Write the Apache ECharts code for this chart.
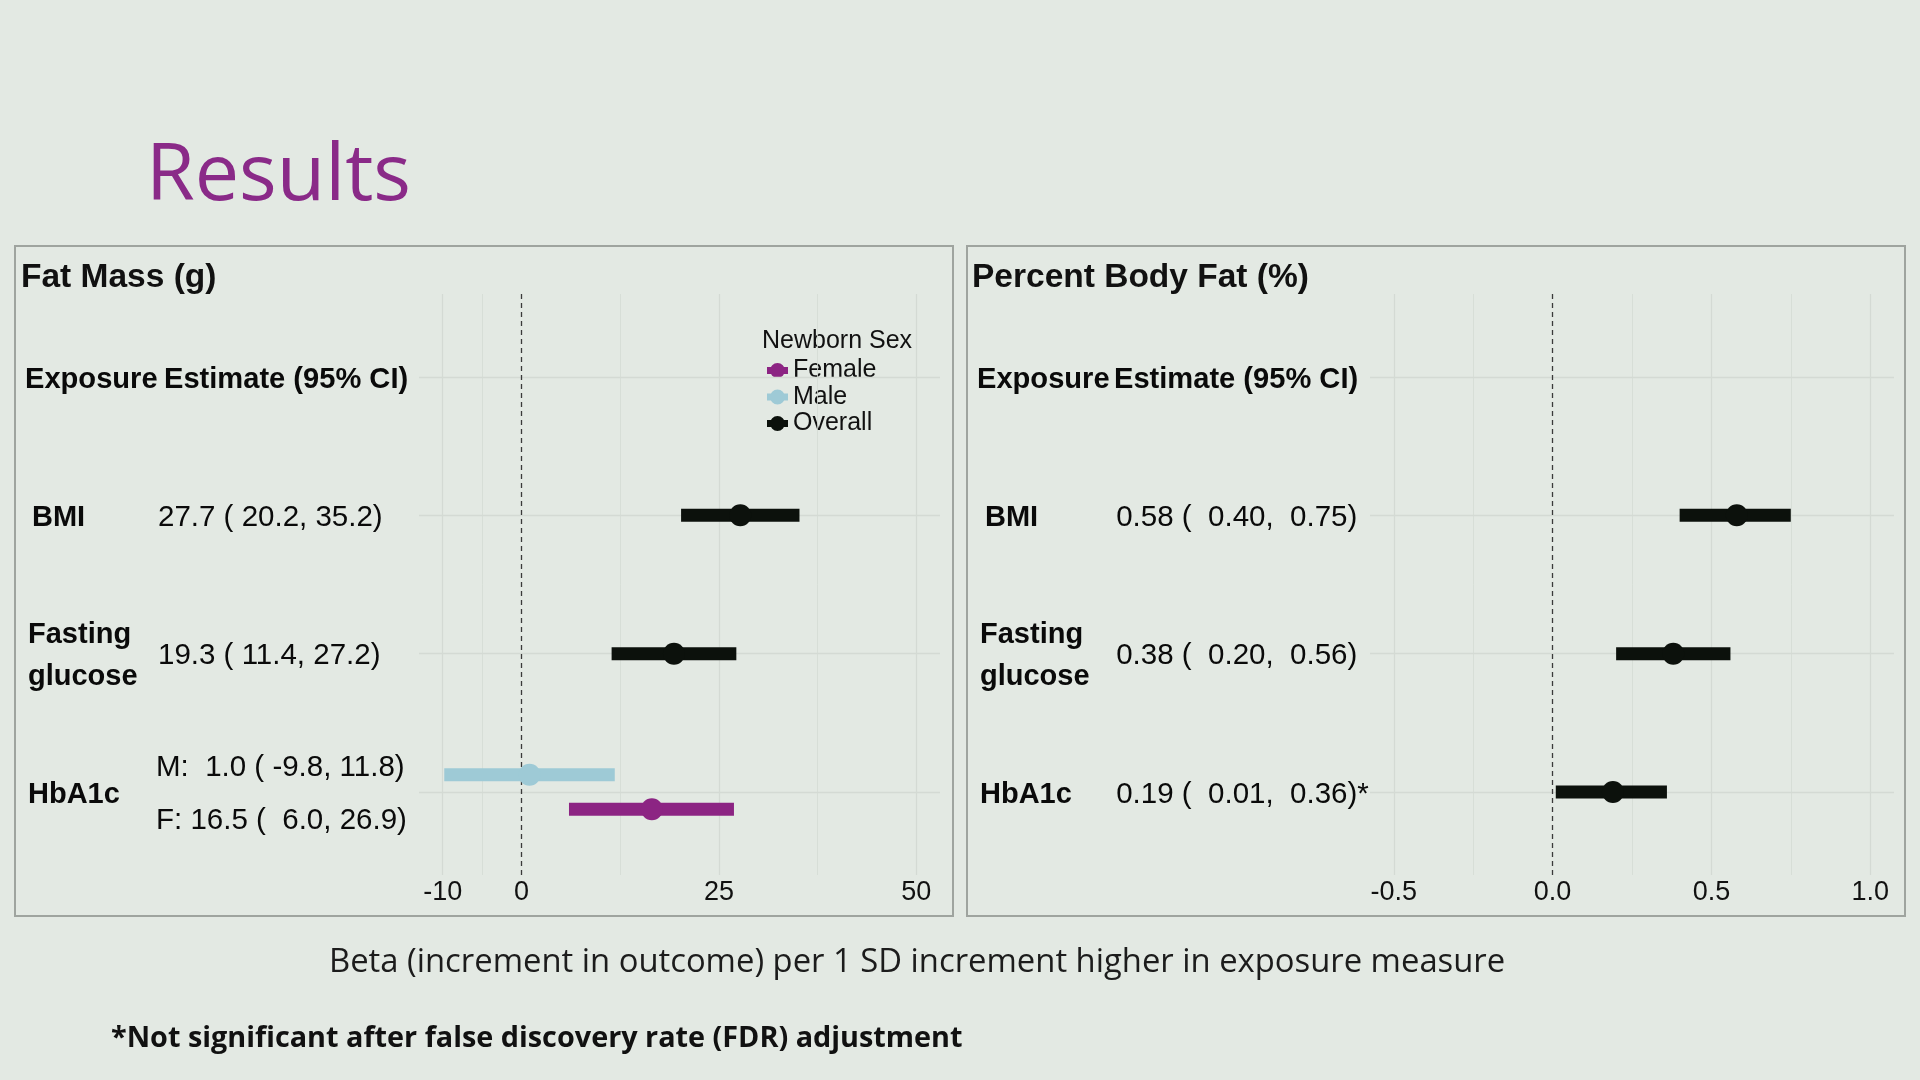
<!DOCTYPE html>
<html>
<head>
<meta charset="utf-8">
<title>Results</title>
<script src="https://cdn.jsdelivr.net/npm/echarts@6/dist/echarts.min.js"></script>
<style>
  html, body { margin: 0; padding: 0; background: #e3e9e3; }
  #main { width: 1920px; height: 1080px; }
</style>
</head>
<body>
<div id="main"></div>
<script>
// rows: 1 = header, 2..4 = exposures
var exposures = ['BMI', 'Fasting\nglucose', 'HbA1c'];
var exposureRows = [2, 3, 4];

// Fat mass (g), overall (BMI, fasting glucose)
var fmOverallEst = [27.7, 19.3];
var fmOverallLo = [20.2, 11.4];
var fmOverallHi = [35.2, 27.2];
// Fat mass (g), HbA1c by newborn sex
var fmMale = [1.0, -9.8, 11.8];
var fmFemale = [16.5, 6.0, 26.9];

// Percent body fat (%), overall
var pbfEst = [0.58, 0.38, 0.19];
var pbfLo = [0.40, 0.20, 0.01];
var pbfHi = [0.75, 0.56, 0.36];
var pbfFdrSig = [true, true, false];

var fmTicks = [-10, 0, 25, 50];
var fmMinor = [-5, 12.5, 37.5];
var pbfTicks = [-0.5, 0, 0.5, 1.0];
var pbfMinor = [-0.25, 0.25, 0.75];

var sexNames = ['Female', 'Male', 'Overall'];
var sexColors = { Female: '#8c2483', Male: '#9ecad6', Overall: '#0c110c' };

var bg = '#e3e9e3';
var gridCol = '#d4dad4';
var tableFont = 'Liberation Sans, Arial, sans-serif';
var slideFont = 'Open Sans, Noto Sans, sans-serif';

function pad(v, d) {
  var s = v.toFixed(d);
  while (s.length < d + 3) s = ' ' + s;
  return s;
}
function ciText(est, lo, hi, d) {
  return pad(est, d) + ' ( ' + pad(lo, d) + ', ' + pad(hi, d) + ')';
}
function limits(ticks) {
  var lo = ticks[0], hi = ticks[ticks.length - 1], e = (hi - lo) * 0.05;
  return [lo - e, hi + e];
}

var chart = echarts.init(document.getElementById('main'), null, { renderer: 'canvas' });

var barH = 13, dotR = 11;
function renderCI(params, api) {
  var y = api.value(3);
  var p0 = api.coord([api.value(1), y]);
  var p1 = api.coord([api.value(2), y]);
  var pc = api.coord([api.value(0), y]);
  var col = api.visual('color');
  return {
    type: 'group',
    children: [
      { type: 'rect', shape: { x: p0[0], y: p0[1] - barH / 2, width: p1[0] - p0[0], height: barH }, style: { fill: col } },
      { type: 'circle', shape: { cx: pc[0], cy: pc[1], r: dotR }, style: { fill: col } }
    ]
  };
}

function ciSeries(name, idx, data) {
  return {
    name: name,
    type: 'custom',
    xAxisIndex: idx, yAxisIndex: idx,
    renderItem: renderCI,
    itemStyle: { color: sexColors[name] },
    encode: { x: [0, 1, 2], y: 3 },
    data: data,
    z: 5
  };
}

function gridLines(idx, ticks, minor) {
  var d = [];
  minor.forEach(function (v) { d.push({ xAxis: v, lineStyle: { color: gridCol, width: 0.8 } }); });
  ticks.forEach(function (v) { if (v !== 0) d.push({ xAxis: v }); });
  [1, 2, 3, 4].forEach(function (r) { d.push({ yAxis: r }); });
  d.push({ xAxis: 0, lineStyle: { color: '#3a3a3a', width: 1.3, type: [5, 4] } });
  return {
    type: 'line', xAxisIndex: idx, yAxisIndex: idx, data: [], silent: true, z: 1,
    markLine: {
      silent: true, symbol: ['none', 'none'], label: { show: false },
      lineStyle: { color: gridCol, width: 1.3, type: 'solid' },
      data: d
    }
  };
}

function textSeries(idx, items) {
  return {
    type: 'scatter', xAxisIndex: idx, yAxisIndex: idx, silent: true,
    symbolSize: 0.01, itemStyle: { color: '#000', opacity: 1 },
    data: items.map(function (it) {
      return {
        value: [it.x, it.y],
        label: {
          show: true, position: 'right', distance: 0, offset: [0, 2.5],
          formatter: it.text,
          fontFamily: tableFont, fontSize: it.size, lineHeight: 42,
          fontWeight: it.bold ? 'bold' : 'normal', color: '#0a0a0a', opacity: 1
        }
      };
    })
  };
}

// table layout (px from panel left)
var colExp = 13, colExpHdr = 10, colEst = 141, colEstHdr = 149;
var hdrSize = 29.1, lblSize = 29, valSize = 29.5;

var fmTable = [
  { x: colExpHdr, y: 1, text: 'Exposure', bold: true, size: hdrSize },
  { x: colEstHdr, y: 1, text: 'Estimate (95% CI)', bold: true, size: hdrSize }
];
exposures.forEach(function (e, i) {
  fmTable.push({ x: colExp + (i === 0 ? 4 : 0), y: exposureRows[i], text: e, bold: true, size: lblSize });
});
fmOverallEst.forEach(function (v, i) {
  fmTable.push({ x: colEst + 2, y: exposureRows[i], text: ciText(v, fmOverallLo[i], fmOverallHi[i], 1), size: valSize });
});
fmTable.push({ x: colEst, y: exposureRows[2] - 0.19, text: 'M: ' + ciText(fmMale[0], fmMale[1], fmMale[2], 1), size: valSize });
fmTable.push({ x: colEst, y: exposureRows[2] + 0.19, text: 'F: ' + ciText(fmFemale[0], fmFemale[1], fmFemale[2], 1), size: valSize });

var pbfTable = [
  { x: colExpHdr, y: 1, text: 'Exposure', bold: true, size: hdrSize },
  { x: colEstHdr - 2, y: 1, text: 'Estimate (95% CI)', bold: true, size: hdrSize }
];
exposures.forEach(function (e, i) {
  pbfTable.push({ x: colExp + (i === 0 ? 5 : 0), y: exposureRows[i], text: e, bold: true, size: lblSize });
});
pbfEst.forEach(function (v, i) {
  pbfTable.push({ x: colEst, y: exposureRows[i], text: ciText(v, pbfLo[i], pbfHi[i], 2) + (pbfFdrSig[i] ? '' : '*'), size: valSize });
});

var fmLim = limits(fmTicks), pbfLim = limits(pbfTicks);

var plotTop = 294, plotH = 581;
var yAxisBase = { type: 'value', min: 0.4, max: 4.6, inverse: true, show: false };
var hiddenX = function (max) {
  return { type: 'value', min: 0, max: max, show: false };
};
var axisLabelStyle = { fontFamily: tableFont, fontSize: 27, color: '#111', margin: 4 };

var option = {
  backgroundColor: bg,
  animation: false,
  grid: [
    { left: 419, top: plotTop, width: 521, height: plotH },
    { left: 1370, top: plotTop, width: 524, height: plotH },
    { left: 15, top: plotTop, width: 404, height: plotH },
    { left: 967, top: plotTop, width: 403, height: plotH }
  ],
  xAxis: [
    {
      gridIndex: 0, type: 'value', min: fmLim[0], max: fmLim[1],
      axisLine: { show: false }, axisTick: { show: false }, splitLine: { show: false },
      axisLabel: Object.assign({ customValues: fmTicks }, axisLabelStyle)
    },
    {
      gridIndex: 1, type: 'value', min: pbfLim[0], max: pbfLim[1],
      axisLine: { show: false }, axisTick: { show: false }, splitLine: { show: false },
      axisLabel: Object.assign({ customValues: pbfTicks, formatter: function (v) { return v.toFixed(1); } }, axisLabelStyle)
    },
    Object.assign({ gridIndex: 2 }, hiddenX(404)),
    Object.assign({ gridIndex: 3 }, hiddenX(403))
  ],
  yAxis: [0, 1, 2, 3].map(function (g) { return Object.assign({ gridIndex: g }, yAxisBase); }),
  legend: {
    data: sexNames,
    orient: 'vertical',
    left: 762, top: 353,
    itemWidth: 21, itemHeight: 15, itemGap: 1.5, itemTextGap: 10,
    icon: 'path://M0,4H21V11H0Z M18,7.5A7.5,7.5 0 1,1 3,7.5A7.5,7.5 0 1,1 18,7.5Z',
    selectedMode: false,
    textStyle: { fontFamily: tableFont, fontSize: 25, lineHeight: 25, color: '#111' }
  },
  graphic: [
    { type: 'rect', shape: { x: 15, y: 246, width: 938, height: 670 }, style: { fill: 'none', stroke: '#9fa49f', lineWidth: 2 }, z: 0 },
    { type: 'rect', shape: { x: 967, y: 246, width: 938, height: 670 }, style: { fill: 'none', stroke: '#9fa49f', lineWidth: 2 }, z: 0 },
    { type: 'text', left: 146, top: 138, style: { text: 'Results', fontFamily: slideFont, fontSize: 79, fill: '#8a2a88' } },
    { type: 'text', left: 21, top: 261, style: { text: 'Fat Mass (g)', fontFamily: tableFont, fontSize: 33.5, fontWeight: 'bold', fill: '#111' } },
    { type: 'text', left: 972, top: 261, style: { text: 'Percent Body Fat (%)', fontFamily: tableFont, fontSize: 33.5, fontWeight: 'bold', fill: '#111' } },
    { type: 'text', left: 762, top: 329, style: { text: 'Newborn Sex', fontFamily: tableFont, fontSize: 25, fill: '#111' } },
    { type: 'text', left: 329, top: 946, style: { text: 'Beta (increment in outcome) per 1 SD increment higher in exposure measure', fontFamily: slideFont, fontSize: 32.8, fill: '#1c1c1c' } },
    { type: 'text', left: 111, top: 1024, style: { text: '*Not significant after false discovery rate (FDR) adjustment', fontFamily: slideFont, fontSize: 28.8, fontWeight: 'bold', fill: '#111' } }
  ],
  series: [
    gridLines(0, fmTicks, fmMinor),
    gridLines(1, pbfTicks, pbfMinor),
    ciSeries('Overall', 0, fmOverallEst.map(function (v, i) { return [v, fmOverallLo[i], fmOverallHi[i], exposureRows[i]]; })),
    ciSeries('Male', 0, [[fmMale[0], fmMale[1], fmMale[2], exposureRows[2] - 0.125]]),
    ciSeries('Female', 0, [[fmFemale[0], fmFemale[1], fmFemale[2], exposureRows[2] + 0.125]]),
    ciSeries('Overall', 1, pbfEst.map(function (v, i) { return [v, pbfLo[i], pbfHi[i], exposureRows[i]]; })),
    textSeries(2, fmTable),
    textSeries(3, pbfTable)
  ]
};

chart.setOption(option);
</script>
</body>
</html>
